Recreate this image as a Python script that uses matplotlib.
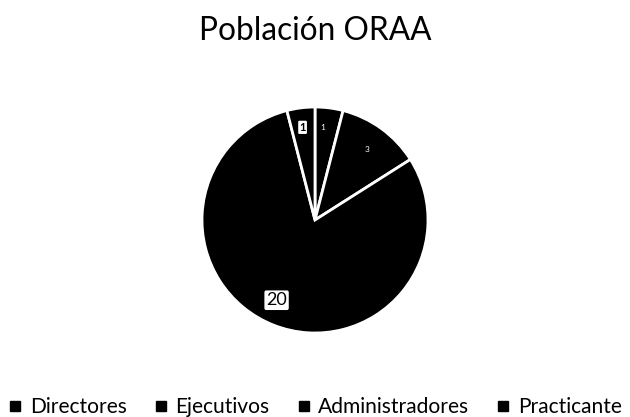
import matplotlib
matplotlib.use('Agg')
import matplotlib.pyplot as plt
from matplotlib.lines import Line2D

categories = ['Directores', 'Ejecutivos', 'Administradores', 'Practicante']
values = [1, 3, 20, 1]
title = 'Población ORAA'

plt.rcParams['font.family'] = ['Lato', 'DejaVu Sans']

W, H = 630, 417
fig = plt.figure(figsize=(W / 100, H / 100), dpi=100)
fig.patch.set_facecolor('white')
renderer = fig.canvas.get_renderer()

# pie axes: centre ~ (315, 220) px, radius ~ 113 px
r = 113
ax = fig.add_axes([(315 - r) / W, (H - 220 - r) / H, 2 * r / W, 2 * r / H])
ax.pie(values, startangle=90, counterclock=False,
       colors=['black'] * len(values),
       wedgeprops=dict(edgecolor='white', linewidth=2))
ax.set_xlim(-1.0, 1.0)
ax.set_ylim(-1.0, 1.0)
ax.set_aspect('equal')

# data labels, mostly lost in the black slices
ax.text(0.07, 0.82, str(values[0]), color='white', fontsize=6,
        ha='center', va='center')
ax.text(0.46, 0.62, str(values[1]), color='white', fontsize=6,
        ha='center', va='center')
ax.text(-0.34, -0.71, str(values[2]), color='black', fontsize=13,
        ha='center', va='center',
        bbox=dict(boxstyle='round,pad=0.1', fc='white', ec='none'))
ax.text(-0.11, 0.82, str(values[3]), color='black', fontsize=8,
        ha='center', va='center', fontweight='bold',
        bbox=dict(boxstyle='round,pad=0.1', fc='white', ec='none'))

# title, fitted to ~232 px wide, baseline at y=40 px
t = fig.text(0.5, 1 - 40 / H, title, ha='center', va='baseline', fontsize=20)
tw = t.get_window_extent(renderer).width
t.set_fontsize(20 * 232 / tw)

# legend text fitted so "Directores" is ~97 px wide
probe = fig.text(0, 0, categories[0], fontsize=13)
pw = probe.get_window_extent(renderer).width
probe.remove()
lfs = 13 * 97 / pw

handles = [Line2D([0], [0], marker='s', linestyle='none', color='black',
                  markersize=6.5) for _ in categories]
cs = 2.0
for _ in range(3):
    leg = fig.legend(handles, categories, loc='center',
                     bbox_to_anchor=(0.5, 1 - 407 / H), ncol=4, frameon=False,
                     fontsize=lfs, handlelength=0.7, handletextpad=0.35,
                     columnspacing=cs, borderpad=0, borderaxespad=0)
    lw = leg.get_window_extent(renderer).width
    gap_px = cs * lfs * 100 / 72
    extra = (614 - lw) / 3
    cs = max(0.3, (gap_px + extra) / (lfs * 100 / 72))
    leg.remove()
leg = fig.legend(handles, categories, loc='center',
                 bbox_to_anchor=(0.5, 1 - 407 / H), ncol=4, frameon=False,
                 fontsize=lfs, handlelength=0.7, handletextpad=0.35,
                 columnspacing=cs, borderpad=0, borderaxespad=0)

fig.savefig('out.png', dpi=100, facecolor='white')
